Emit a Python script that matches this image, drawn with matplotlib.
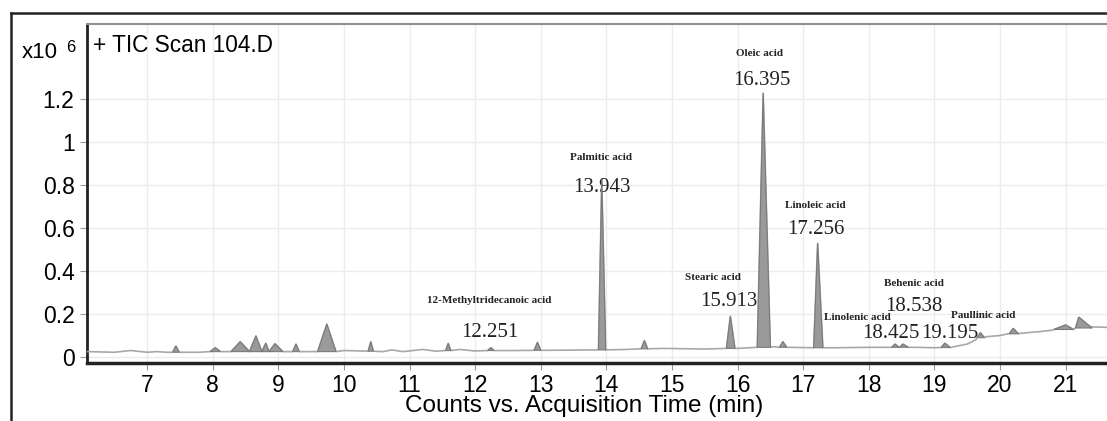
import matplotlib.pyplot as plt
from matplotlib.lines import Line2D

# baseline of the TIC trace (time min, counts x10^6), outside the peaks
base_t = [6.08, 6.5, 6.75, 7.0, 7.15, 7.3, 7.8, 8.2, 9.5, 10.0, 10.6, 10.73, 10.9, 11.2, 11.4,
          11.77, 12.0, 12.6, 13.5, 14.29, 14.87, 15.5, 16.0, 16.55, 16.8, 17.5, 18.0, 18.7,
          19.0, 19.3, 19.5, 19.63, 19.78, 20.0, 20.12, 20.3, 20.6, 20.8, 21.15, 21.4, 21.63]
base_v = [0.025, 0.022, 0.03, 0.022, 0.025, 0.022, 0.022, 0.025, 0.025, 0.03, 0.025, 0.033, 0.025,
          0.035, 0.027, 0.035, 0.028, 0.03, 0.032, 0.035, 0.04, 0.037, 0.04, 0.048, 0.045, 0.043,
          0.045, 0.045, 0.043, 0.048, 0.06, 0.08, 0.094, 0.1, 0.108, 0.11, 0.118, 0.125, 0.135,
          0.14, 0.138]

# integrated peaks: start, apex, end time, base level and apex height
pk_start = [7.39, 7.96, 8.28, 8.56, 8.75, 8.86, 9.22, 9.60, 10.37, 11.55, 12.19, 12.90, 13.88,
            14.53, 15.83, 16.30, 16.64, 17.16, 18.35, 18.47, 19.10, 19.65, 20.14, 20.82, 21.15]
pk_apex = [7.44, 8.04, 8.42, 8.66, 8.81, 8.95, 9.27, 9.74, 10.41, 11.59, 12.24, 12.95, 13.93,
           14.58, 15.89, 16.39, 16.69, 17.22, 18.40, 18.52, 19.16, 19.70, 20.20, 21.00, 21.20]
pk_end = [7.49, 8.12, 8.56, 8.75, 8.86, 9.07, 9.32, 9.88, 10.45, 11.63, 12.29, 13.00, 13.99,
          14.63, 15.96, 16.50, 16.75, 17.30, 18.46, 18.60, 19.24, 19.76, 20.28, 21.12, 21.40]
pk_base = [0.022, 0.025, 0.025, 0.025, 0.025, 0.025, 0.025, 0.025, 0.027, 0.03, 0.03, 0.031,
           0.033, 0.038, 0.04, 0.045, 0.045, 0.043, 0.045, 0.045, 0.044, 0.09, 0.108, 0.128, 0.135]
pk_top = [0.051, 0.043, 0.071, 0.098, 0.064, 0.062, 0.06, 0.153, 0.071, 0.063, 0.043, 0.068,
          0.83, 0.076, 0.19, 1.228, 0.071, 0.529, 0.06, 0.06, 0.064, 0.113, 0.133, 0.149, 0.185]

names = ["12-Methyltridecanoic acid", "Palmitic acid", "Oleic acid", "Stearic acid",
         "Linoleic acid", "Behenic acid", "Linolenic acid", "Paullinic acid"]
rts = ["12.251", "13.943", "16.395", "15.913", "17.256", "18.538", "18.425", "19.195"]

# label positions (data coords): name, then retention time
name_pos = [(12.21, 0.265), (13.92, 0.93), (16.34, 1.414), (15.63, 0.372),
            (17.18, 0.707), (18.69, 0.34), (17.82, 0.186), (19.74, 0.195)]
rt_pos = [(12.23, 0.112), (13.94, 0.79), (16.375, 1.288), (15.86, 0.256),
          (17.2, 0.595), (18.68, 0.233), (18.33, 0.107), (19.23, 0.107)]

fig = plt.figure(figsize=(11.07, 4.21), dpi=100)
ax = fig.add_axes([87 / 1107, 1 - 363 / 421, 1 - 87 / 1107, (363 - 24) / 421])

# full trace = baseline points plus peak vertices, sorted by time
pts = list(zip(base_t, base_v))
for i in range(len(pk_apex)):
    pts += [(pk_start[i], pk_base[i]), (pk_apex[i], pk_top[i]), (pk_end[i], pk_base[i])]
pts.sort()
ax.plot([p[0] for p in pts], [p[1] for p in pts], color="#a8a8a8", lw=1.2, zorder=3)

for i in range(len(pk_apex)):
    ax.fill([pk_start[i], pk_apex[i], pk_end[i]], [pk_base[i], pk_top[i], pk_base[i]],
            facecolor="#9a9a9a", edgecolor="#7a7a7a", lw=0.8, zorder=4)

for i in range(len(names)):
    ax.text(name_pos[i][0], name_pos[i][1], names[i], family="Liberation Serif",
            fontweight="bold", fontsize=8, ha="center", va="center", color="#222222")
    ax.text(rt_pos[i][0], rt_pos[i][1], rts[i], family="Liberation Serif",
            fontsize=15, ha="center", va="center", color="#222222")

ax.set_xlim(6.085, 21.63)
ax.set_ylim(-0.028, 1.55)
ax.set_xticks(range(7, 22))
ax.set_yticks([0, 0.2, 0.4, 0.6, 0.8, 1.0, 1.2])
ax.set_yticklabels(["0", "0.2", "0.4", "0.6", "0.8", "1", "1.2"])
ax.grid(color="#ececec", lw=1)
ax.set_axisbelow(True)
for lab in ax.get_xticklabels() + ax.get_yticklabels():
    lab.set_family("Liberation Sans")
ax.tick_params(axis="x", labelsize=16.5, color="#999999", length=5, pad=3)
ax.tick_params(axis="y", labelsize=16.5, color="#999999", length=5, pad=4)

ax.spines["right"].set_visible(False)
ax.spines["left"].set_linewidth(2)
ax.spines["left"].set_color("#222222")
ax.spines["bottom"].set_linewidth(2.5)
ax.spines["bottom"].set_color("#222222")
ax.spines["top"].set_linewidth(1.5)
ax.spines["top"].set_color("#909090")

# outer frame
fig.add_artist(Line2D([11 / 1107, 11 / 1107], [0, 1 - 13 / 421], color="#222222", lw=1.8))
fig.add_artist(Line2D([11 / 1107, 1], [1 - 13 / 421, 1 - 13 / 421], color="#222222", lw=1.8))

fig.text(93 / 1107, 1 - 45 / 421, "+ TIC Scan 104.D", family="Liberation Sans",
         fontsize=16.3, va="center", ha="left")
fig.text(22 / 1107, 1 - 53 / 421, "x10", family="Liberation Sans", fontsize=16,
         va="center", ha="left")
fig.text(66 / 1107, 1 - 47 / 421, "6", family="Liberation Sans", fontsize=12,
         va="center", ha="left")
fig.text(584 / 1107, 1 - 406 / 421, "Counts vs. Acquisition Time (min)",
         family="Liberation Sans", fontsize=17.5, va="center", ha="center")

fig.savefig("out.png", dpi=100)
